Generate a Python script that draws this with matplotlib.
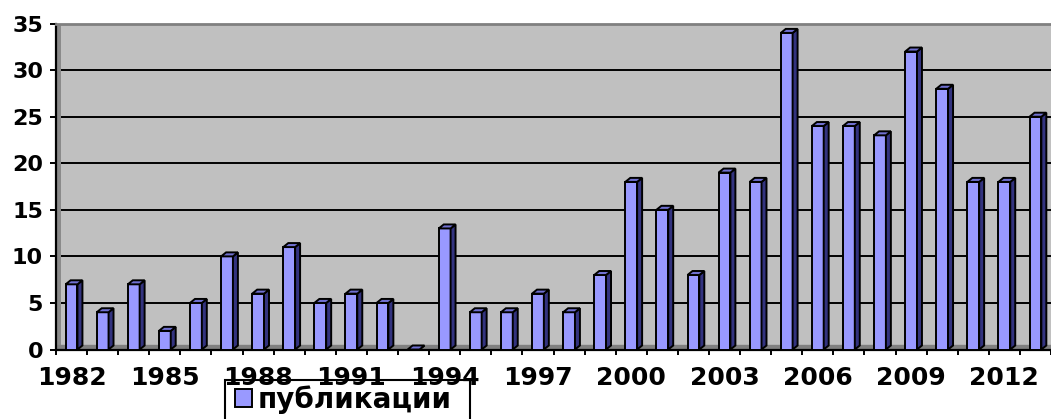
import matplotlib.pyplot as plt
from matplotlib.patches import Polygon, Rectangle, Patch

# publications per year
years = list(range(1982, 2014))
publications = [7, 4, 7, 2, 5, 10, 6, 11, 5, 6, 5, 0, 13, 4, 4, 6,
                4, 8, 18, 15, 8, 19, 18, 34, 24, 24, 23, 32, 28, 18, 18, 25]
y_ticks = [0, 5, 10, 15, 20, 25, 30, 35]
label_step = 3
series_name = "публикации"

FRONT = "#9999FF"
SIDE = "#33337F"
TOP = "#7070D0"
WALL = "#8A8A8A"
PLOT_BG = "#C0C0C0"

# bar geometry (category units / value units) for the fake 3-D look
W = 0.38
DX = 0.16
DY = 0.43

plt.rcParams["font.family"] = "DejaVu Sans"
plt.rcParams["font.weight"] = "bold"

W_PX, H_PX = 1051, 419
fig = plt.figure(figsize=(W_PX / 100, H_PX / 100), dpi=100)
ax = fig.add_axes([56 / W_PX, (H_PX - 349.5) / H_PX, 995 / W_PX, 325.9 / H_PX])
ax.set_facecolor(PLOT_BG)

pos = list(range(len(years)))
ax.set_xlim(-0.5, len(years) - 0.5)
ax.set_ylim(0, y_ticks[-1])

# back wall gridlines, left wall and floor
ax.set_axisbelow(True)
ax.grid(axis="y", color="black", linewidth=1.4)
ax.add_patch(Rectangle((0, 0), 5 / 995, 1, transform=ax.transAxes,
                       facecolor=WALL, edgecolor="none", zorder=1))
ax.axhspan(0, DY, color="#808080", zorder=1)

# front faces
ax.bar(pos, publications, width=W, color=FRONT, edgecolor="black",
       linewidth=1.4, zorder=3)

# side and top faces
for x, v in zip(pos, publications):
    r = x + W / 2
    l = x - W / 2
    side = Polygon([(r, 0), (r + DX, DY), (r + DX, v + DY), (r, v)],
                   closed=True, facecolor=SIDE, edgecolor="black",
                   linewidth=1.4, zorder=3)
    top = Polygon([(l, v), (l + DX, v + DY), (r + DX, v + DY), (r, v)],
                  closed=True, facecolor=TOP, edgecolor="black",
                  linewidth=1.4, zorder=3)
    ax.add_patch(side)
    ax.add_patch(top)

# spines
ax.spines["right"].set_visible(False)
ax.spines["top"].set_color("#808080")
ax.spines["top"].set_linewidth(2)
ax.spines["left"].set_linewidth(1.6)
ax.spines["bottom"].set_linewidth(1.6)

# ticks
ax.set_yticks(y_ticks)
ax.tick_params(axis="y", length=4.3, width=1.4, pad=5, labelsize=16)
ax.set_xticks(pos[::label_step])
ax.set_xticklabels([str(y) for y in years[::label_step]])
ax.set_xticks([p - 0.5 for p in pos] + [pos[-1] + 0.5], minor=True)
ax.tick_params(axis="x", which="major", length=0, pad=12, labelsize=18)
ax.tick_params(axis="x", which="minor", length=3.6, width=1.4)

# legend, its frame runs off the lower edge of the figure
fig.patches.append(Rectangle((225 / W_PX, -0.05), 245 / W_PX, (H_PX - 380) / H_PX + 0.05,
                             transform=fig.transFigure, fill=False,
                             edgecolor="black", linewidth=1.5, zorder=5))
fig.legend(handles=[Patch(facecolor=FRONT, edgecolor="black", linewidth=1.4,
                          label=series_name)],
           loc="center left", bbox_to_anchor=(235 / W_PX, 1 - 399.5 / H_PX),
           frameon=False, fontsize=20, handlelength=0.62, handleheight=0.62,
           handletextpad=0.2, borderpad=0, borderaxespad=0)

fig.savefig("out.png", dpi=100)
